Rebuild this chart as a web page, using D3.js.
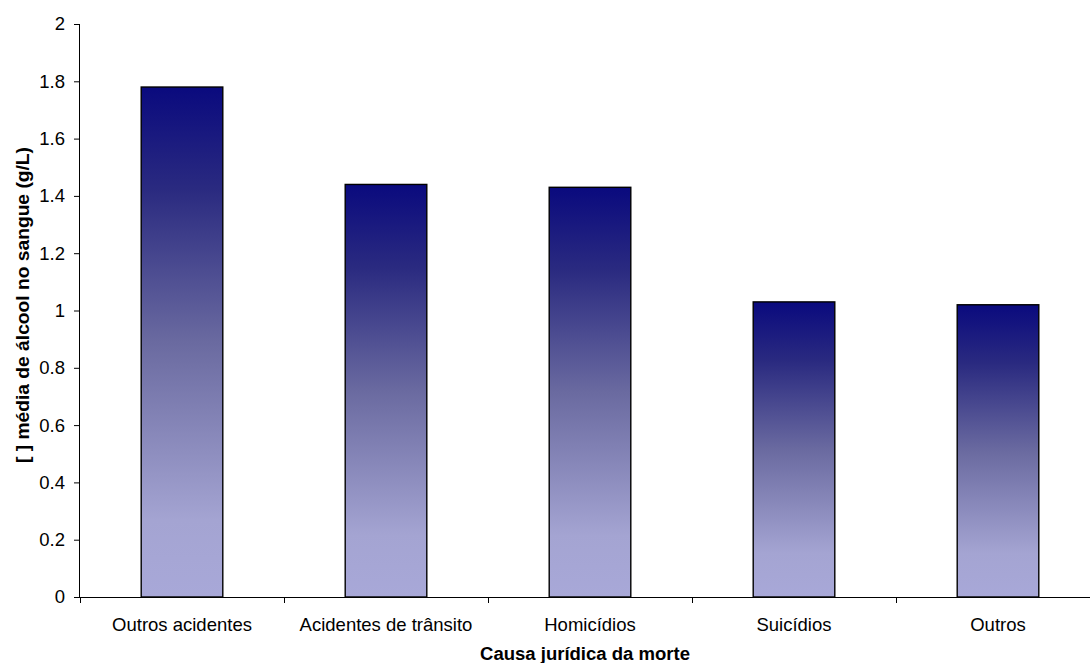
<!DOCTYPE html>
<html><head><meta charset="utf-8">
<script src="https://cdn.jsdelivr.net/npm/d3@7"></script>
<style>html,body{margin:0;padding:0;background:#fff;}svg{display:block;font-family:"Liberation Sans",Arial,sans-serif;}</style>
</head><body>
<svg id="c" width="1090" height="663"></svg>
<script>
const categories = ["Outros acidentes","Acidentes de trânsito","Homicídios","Suicídios","Outros"];
const values = [1.78, 1.44, 1.43, 1.03, 1.02];
const yTicks = [0,0.2,0.4,0.6,0.8,1,1.2,1.4,1.6,1.8,2];
const xTitle = "Causa jurídica da morte";
const yTitle = "[ ] média de álcool no sangue (g/L)";

(function(){
const svg = d3.select("#c");
const mLeft = 80, mRight = 1100, mTop = 24, mBottom = 597;
const x = d3.scaleBand().domain(categories).range([mLeft, mRight]).paddingInner(0.6).paddingOuter(0.3);
const xb = d3.scaleBand().domain(categories).range([mLeft, mRight]);
const y = d3.scaleLinear().domain([0, 2]).range([mBottom, mTop]);

const defs = svg.append("defs");
const g = defs.append("linearGradient").attr("id","grad").attr("x1",0).attr("y1",0).attr("x2",0).attr("y2",1);
[[0,"#0a0a7e"],[0.2,"#2a2a80"],[0.5,"#6a6aa0"],[0.85,"#a4a4d2"],[1,"#a8a8d8"]].forEach(s=>g.append("stop").attr("offset",s[0]).attr("stop-color",s[1]));

svg.selectAll("rect.bar").data(values).enter().append("rect")
  .attr("class","bar")
  .attr("x",(d,i)=>x(categories[i]))
  .attr("y",d=>y(d))
  .attr("width",x.bandwidth())
  .attr("height",d=>mBottom-y(d))
  .attr("fill","url(#grad)")
  .attr("stroke","#000").attr("stroke-width",1.4);

const ya = svg.append("g").attr("transform",`translate(${mLeft},0)`)
  .call(d3.axisLeft(y).tickValues(yTicks).tickSize(6).tickPadding(9).tickFormat(d=>d3.format("")(+d.toFixed(1))));
ya.select(".domain").attr("stroke","#000").attr("d",`M-0.5,${mTop}V${mBottom}`);
ya.selectAll("text").attr("font-size",18.5).attr("fill","#000").attr("font-family","Liberation Sans, Arial, sans-serif");
ya.selectAll("line").attr("stroke","#000");

svg.append("line").attr("x1",mLeft-6).attr("x2",mRight).attr("y1",mBottom+0.5).attr("y2",mBottom+0.5).attr("stroke","#000");
svg.selectAll("line.xt").data(categories).enter().append("line").attr("class","xt")
  .attr("x1",d=>xb(d)+0.5).attr("x2",d=>xb(d)+0.5).attr("y1",mBottom).attr("y2",mBottom+6).attr("stroke","#000");
svg.selectAll("text.xl").data(categories).enter().append("text").attr("class","xl")
  .attr("x",d=>xb(d)+xb.bandwidth()/2).attr("y",631).attr("text-anchor","middle")
  .attr("font-size",18.5).attr("fill","#000").text(d=>d);

svg.append("text").attr("x",585).attr("y",660).attr("text-anchor","middle")
  .attr("font-size",18).attr("font-weight","bold")
  .attr("textLength",210).attr("lengthAdjust","spacingAndGlyphs").text(xTitle);
svg.append("text").attr("transform","translate(29,305) rotate(-90)").attr("text-anchor","middle")
  .attr("font-size",18.5).attr("font-weight","bold")
  .attr("textLength",316).attr("lengthAdjust","spacingAndGlyphs").text(yTitle);
})();
</script>
</body></html>
